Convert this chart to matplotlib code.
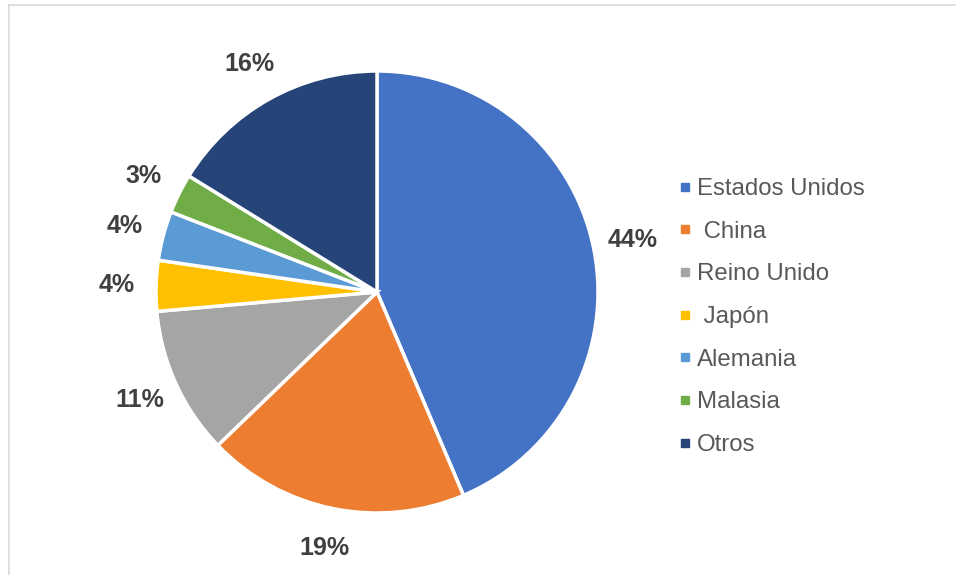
import matplotlib.pyplot as plt
from matplotlib.lines import Line2D

paises = ['Estados Unidos', ' China', 'Reino Unido', ' Japón', 'Alemania', 'Malasia', 'Otros']
valores = [43.6, 19.2, 10.8, 3.7, 3.6, 2.9, 16.2]
colores = ['#4472C4', '#ED7D31', '#A5A5A5', '#FFC000', '#5B9BD5', '#70AD47', '#264478']

plt.rcParams['font.family'] = ['Liberation Sans', 'DejaVu Sans']

W, H = 956, 575
fig = plt.figure(figsize=(W / 100, H / 100), dpi=100)

# pie centred at (377, 292) px, radius 221 px
cx, cy, r = 377, 292, 221
ax = fig.add_axes([(cx - r) / W, (H - cy - r) / H, 2 * r / W, 2 * r / H])
wedges, _, autotexts = ax.pie(valores, colors=colores, startangle=90, counterclock=False,
                              autopct='%1.0f%%', pctdistance=1.18, radius=1,
                              wedgeprops=dict(edgecolor='white', linewidth=2.5))
for t in autotexts:
    t.set_fontsize(18)
    t.set_fontweight('bold')
    t.set_color('#404040')
ax.set_xlim(-1, 1)
ax.set_ylim(-1, 1)
ax.axis('off')

handles = [Line2D([], [], marker='s', linestyle='none', markersize=6,
                  markerfacecolor=c, markeredgecolor=c) for c in colores]
leg = fig.legend(handles, paises, loc='center left', bbox_to_anchor=(667 / W, 1 - 317 / H),
                 frameon=False, fontsize=17.3, handlelength=0.5, handletextpad=0.25,
                 labelspacing=0.86, borderpad=0)
for t in leg.get_texts():
    t.set_color('#595959')

# thin chart-area border (left and top visible)
fig.add_artist(Line2D([8.5 / W, 8.5 / W], [0, 1 - 4.5 / H], transform=fig.transFigure,
                      color='#D9D9D9', linewidth=1.2))
fig.add_artist(Line2D([8.5 / W, 1], [1 - 4.5 / H, 1 - 4.5 / H], transform=fig.transFigure,
                      color='#D9D9D9', linewidth=1.2))

fig.savefig('out.png', dpi=100, facecolor='white')
